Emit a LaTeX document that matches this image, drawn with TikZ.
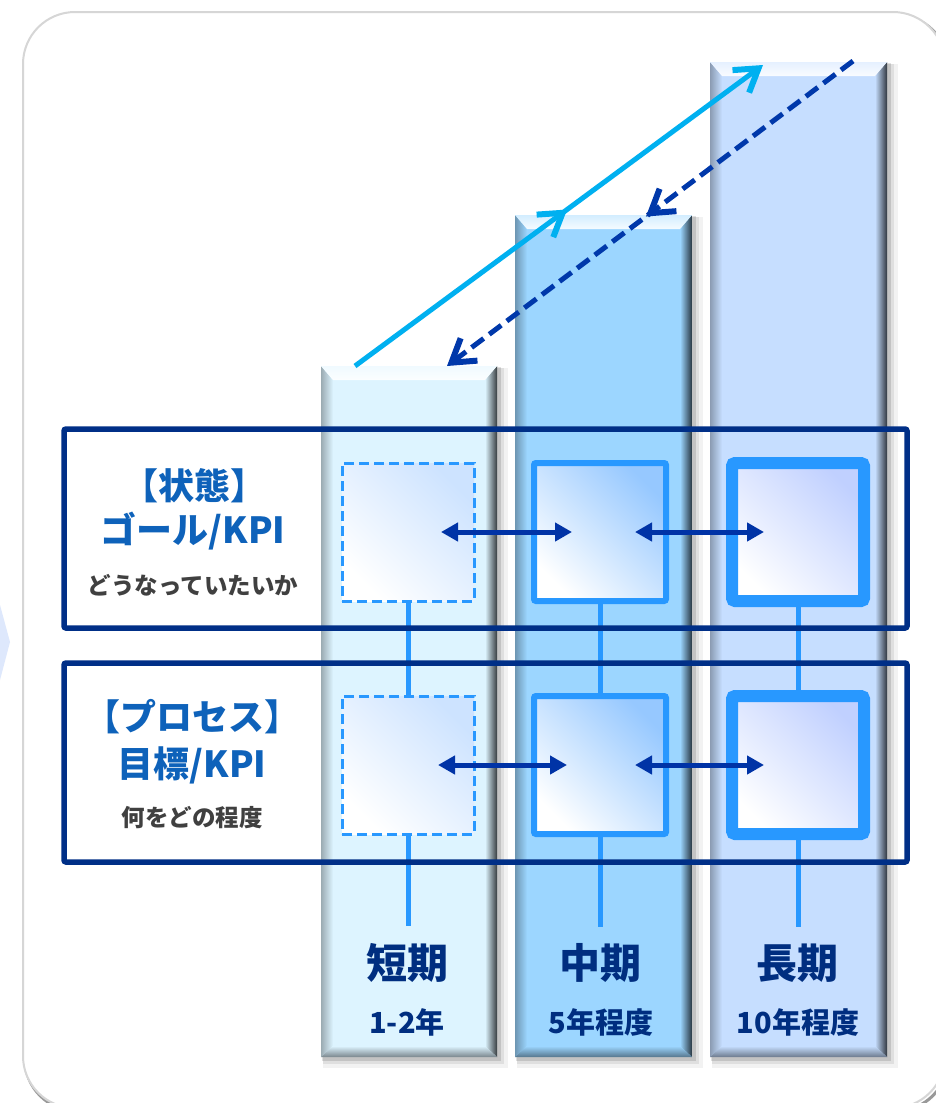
\documentclass[tikz,border=0pt]{standalone}
\usepackage{fontspec}
\newfontfamily\jp{Noto Sans CJK JP}
\usetikzlibrary{arrows.meta,decorations.markings}
\definecolor{navy}{RGB}{0,47,135}
\definecolor{lblue}{RGB}{14,98,186}
\definecolor{darktxt}{RGB}{64,64,64}
\definecolor{botlbl}{RGB}{0,46,128}
\definecolor{sqblue}{RGB}{40,152,255}
\definecolor{harr}{RGB}{0,51,166}
\definecolor{cyanarr}{RGB}{0,176,240}
\definecolor{dasharr}{RGB}{0,56,170}
\definecolor{barA}{RGB}{221,244,255}
\definecolor{barB}{RGB}{156,214,255}
\definecolor{barC}{RGB}{198,222,255}
\definecolor{sqA}{RGB}{205,227,255}
\definecolor{sqB}{RGB}{150,200,255}
\definecolor{sqC}{RGB}{192,208,255}
\definecolor{chev}{RGB}{222,232,252}

\newcommand\drawbar[5]{%
  \fill[black,opacity=0.05] (#1+2,#3+2) rectangle (#2+11,#4+11);
  \fill[black,opacity=0.08] (#1+2,#3+2) rectangle (#2+7,#4+7);
  \fill[black,opacity=0.12] (#1+1,#3+1) rectangle (#2+4,#4+4);
  \fill[#5] (#1,#3) rectangle (#2,#4);
  \shade[left color=black!30!#5, right color=#5] (#1,#3) -- (#1+12,#3+14) -- (#1+12,#4-11) -- (#1,#4) -- cycle;
  \shade[left color=#5, right color=black!75!#5] (#2,#3) -- (#2-12,#3+14) -- (#2-12,#4-11) -- (#2,#4) -- cycle;
  \shade[top color=white!55!#5, bottom color=white!90!#5] (#1,#3) -- (#2,#3) -- (#2-12,#3+14) -- (#1+12,#3+14) -- cycle;
  \shade[top color=#5, bottom color=black!45!#5] (#1,#4) -- (#2,#4) -- (#2-12,#4-11) -- (#1+12,#4-11) -- cycle;
}

\tikzset{
  box/.style={minimum width=132pt,minimum height=138pt,inner sep=0pt,draw=sqblue},
  boxA/.style={box, top color=sqA, bottom color=white, shading angle=-45, line width=3pt, dash pattern=on 10pt off 5pt},
  boxB/.style={box, top color=sqB, bottom color=white, shading angle=-45, line width=6pt, rounded corners=2pt},
  boxC/.style={box, top color=sqC, bottom color=white, shading angle=-45, line width=12pt, rounded corners=3pt},
  vline/.style={draw=sqblue, line width=5pt},
  harrow/.style={draw=harr, line width=5pt, arrows={Triangle[length=17pt,width=18pt]-Triangle[length=17pt,width=18pt]}},
  frame/.style={draw=navy, line width=5.5pt, rounded corners=2pt},
  barb/.tip={Straight Barb[length=22pt,width=28pt,line width=6pt]},
  cyanline/.style={draw=cyanarr, line width=5pt, arrows={-barb},
    postaction={decorate}, decoration={markings, mark=at position 0.52 with {\arrow{barb}}}},
  dashline/.style={draw=dasharr, line width=5pt, dash pattern=on 15pt off 7pt, arrows={-barb},
    postaction={decorate}, decoration={markings, mark=at position 0.51 with {\arrow{barb}}}},
  lbl/.style={font=\jp\bfseries\fontsize{36}{40}\selectfont, text=lblue, inner sep=0pt},
  sub/.style={font=\jp\bfseries\fontsize{23.5}{26}\selectfont, text=darktxt, inner sep=0pt},
  term/.style={font=\jp\bfseries\fontsize{41}{44}\selectfont, text=botlbl, inner sep=0pt},
  span/.style={font=\jp\bfseries\fontsize{29}{32}\selectfont, text=botlbl, inner sep=0pt},
}

\begin{document}
\begin{tikzpicture}[x=1pt,y=-1pt]
\useasboundingbox (0,0) rectangle (935,1103);
\fill[white] (0,0) rectangle (935,1103);
% outer panel
\draw[black!40, line width=3pt, rounded corners=52pt] (25,15) rectangle (948,1111);
\draw[black!16, fill=white, line width=2pt, rounded corners=52pt] (23,12) rectangle (945,1108);
\fill[chev] (0,605) -- (10,642) -- (0,680) -- cycle;

% bars
\drawbar{321}{497}{366}{1057}{barA}
\drawbar{515}{692}{215}{1057}{barB}
\drawbar{710}{887}{62}{1057}{barC}

% squares
\node[boxA] (a1) at (408,532) {};
\node[boxB] (b1) at (600,532) {};
\node[boxC] (c1) at (798,532) {};
\node[boxA] (a2) at (408,765) {};
\node[boxB] (b2) at (600,765) {};
\node[boxC] (c2) at (798,765) {};

\coordinate (ea) at (408,926);
\coordinate (eb) at (600,927);
\coordinate (ec) at (798,927);
\draw[vline] (a1.south) -- (a2.north);
\draw[vline] (b1.south) -- (b2.north);
\draw[vline] (c1.south) -- (c2.north);
\draw[vline] (a2.south) -- (ea);
\draw[vline] (b2.south) -- (eb);
\draw[vline] (c2.south) -- (ec);

% horizontal arrows
\coordinate (h1) at ([xshift=33pt]a1.center);
\coordinate (h2) at ([xshift=-28pt]b1.center);
\coordinate (h3) at ([xshift=35pt]b1.center);
\coordinate (h4) at ([xshift=-34pt]c1.center);
\coordinate (k1) at ([xshift=30pt]a2.center);
\coordinate (k2) at ([xshift=-33pt]b2.center);
\coordinate (k3) at ([xshift=35pt]b2.center);
\coordinate (k4) at ([xshift=-34pt]c2.center);
\draw[harrow] (h1) -- (h2);
\draw[harrow] (h3) -- (h4);
\draw[harrow] (k1) -- (k2);
\draw[harrow] (k3) -- (k4);

% frames
\draw[frame] (64,429) rectangle (907,628);
\draw[frame] (64,663) rectangle (907,862);

% diagonal arrows
\coordinate (cs) at (355,366);
\coordinate (ce) at (763,65);
\coordinate (ds) at (853,61);
\coordinate (de) at (447,366);
\draw[cyanline] (cs) -- (ce);
\draw[dashline] (ds) -- (de);

% left labels
\node[lbl] (t1) at (194,486) {【状態】};
\node[lbl] (t2) at (193,531) {ゴール/KPI};
\node[sub] (t3) at (193,585) {どうなっていたいか};
\node[lbl] (t4) at (192,717) {【プロセス】};
\node[lbl] (t5) at (192,765) {目標/KPI};
\node[sub] (t6) at (192,818) {何をどの程度};

% bottom labels
\node[term] (p1) at (407,963) {短期};
\node[span] (q1) at (407,1022) {1-2年};
\node[term] (p2) at (600,963) {中期};
\node[span] (q2) at (601,1022) {5年程度};
\node[term] (p3) at (797,963) {長期};
\node[span] (q3) at (798,1022) {10年程度};
\end{tikzpicture}
\end{document}
